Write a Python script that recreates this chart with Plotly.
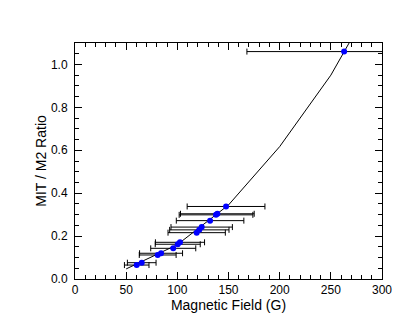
import plotly.graph_objects as go

# measured points (blue) with horizontal field uncertainty
field = [60.3, 65.2, 80.8, 84.1, 96.0, 100.4, 102.6, 118.9, 121.5, 123.8,
         132.0, 137.8, 139.1, 147.6, 263.0]
ratio = [0.065, 0.076, 0.112, 0.120, 0.143, 0.162, 0.171, 0.216, 0.229, 0.242,
         0.272, 0.299, 0.304, 0.338, 1.060]
field_err = [12, 14, 18, 21, 22, 22, 24, 28, 29, 30, 33, 36, 36, 38, 95]

# model curve (black line)
curve_field = [50, 100, 150, 200, 250, 300]
curve_ratio = [0.047, 0.160, 0.345, 0.617, 0.950, 1.370]

font = "Liberation Sans, Arial, Helvetica, sans-serif"

fig = go.Figure()
fig.add_trace(go.Scatter(
    x=curve_field, y=curve_ratio, mode="lines",
    line=dict(color="black", width=1),
    showlegend=False,
))
fig.add_trace(go.Scatter(
    x=field, y=ratio, mode="markers",
    marker=dict(color="#0000ff", size=6),
    error_x=dict(type="data", array=field_err, color="black",
                 thickness=1, width=3),
    showlegend=False,
))

axis_common = dict(
    showline=True, linecolor="black", linewidth=1, mirror="ticks",
    ticks="inside", ticklen=7, tickcolor="black",
    showgrid=False, zeroline=False, automargin=False,
    tickfont=dict(size=12, color="black"),
)

fig.update_layout(
    width=415, height=332,
    margin=dict(l=67, r=41, t=35, b=61),
    paper_bgcolor="white", plot_bgcolor="white",
    font=dict(family=font, size=12, color="black"),
    xaxis=dict(range=[0, 300], dtick=50,
               minor=dict(ticks="inside", ticklen=4, dtick=10, tickcolor="black"),
               title=dict(text="Magnetic Field (G)", standoff=2),
               **axis_common),
    yaxis=dict(range=[0, 1.1], dtick=0.2, tickformat=".1f", ticklabelstandoff=4,
               minor=dict(ticks="inside", ticklen=4, dtick=0.05, tickcolor="black"),
               title=dict(text="MIT / M2 Ratio", standoff=1),
               **axis_common),
)

fig.write_html("out.html")
